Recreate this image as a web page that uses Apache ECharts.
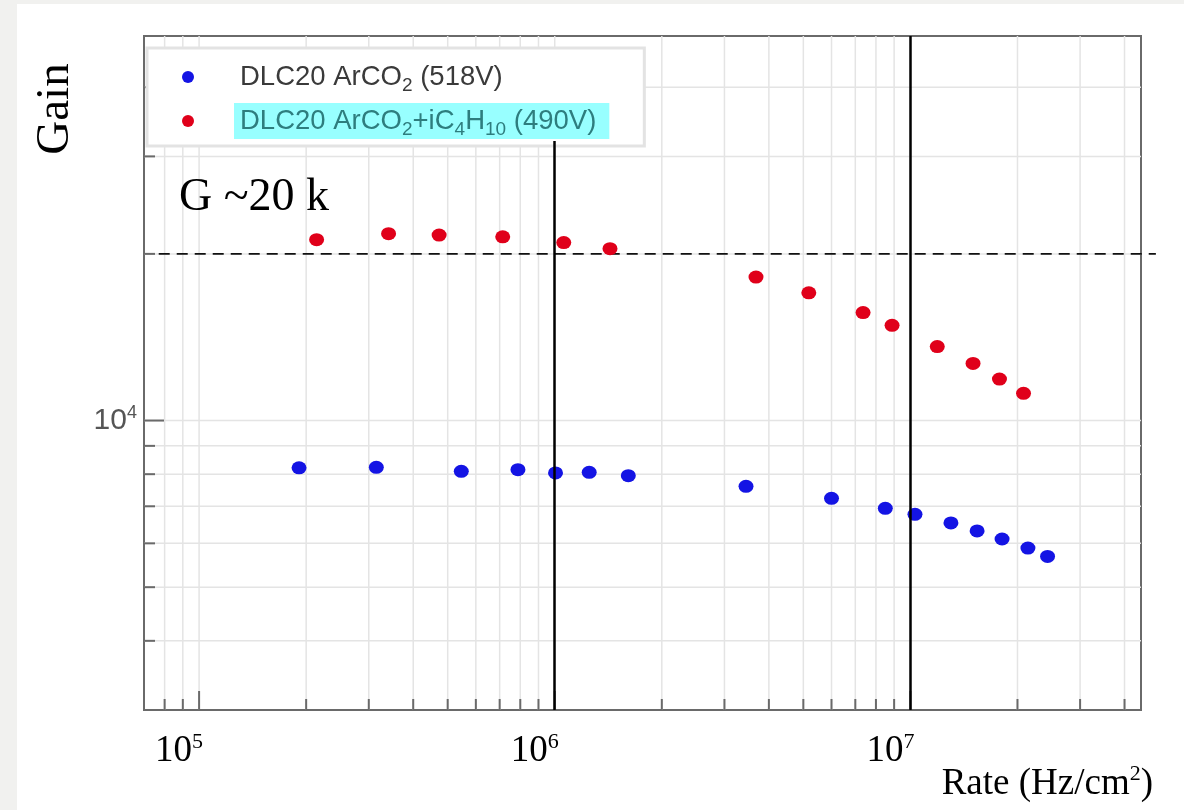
<!DOCTYPE html>
<html>
<head>
<meta charset="utf-8">
<script src="https://cdn.jsdelivr.net/npm/echarts@6/dist/echarts.min.js"></script>
<style>
  html, body { margin: 0; padding: 0; background: #ffffff; }
  #chart { width: 1184px; height: 810px; }
</style>
</head>
<body>
<div id="chart"></div>
<script>
// Gas mixtures shown in the legend
const seriesNames = ['DLC20 ArCO₂ (518V)', 'DLC20 ArCO₂+iC₄H₁₀ (490V)'];

// DLC20 in Ar/CO2 at 518 V: rate (Hz/cm²) and gain
const rateArCO2 = [1.91e5, 3.15e5, 5.46e5, 7.88e5, 1.005e6, 1.25e6, 1.61e6, 3.45e6, 6.0e6, 8.5e6, 1.03e7, 1.30e7, 1.54e7, 1.81e7, 2.14e7, 2.43e7];
const gainArCO2 = [8213, 8230, 8095, 8153, 8042, 8061, 7952, 7605, 7237, 6940, 6770, 6531, 6319, 6109, 5884, 5683];

// DLC20 in Ar/CO2 + iC4H10 at 490 V: rate (Hz/cm²) and gain
const rateIsobutane = [2.14e5, 3.41e5, 4.73e5, 7.14e5, 1.06e6, 1.43e6, 3.68e6, 5.18e6, 7.36e6, 8.88e6, 1.19e7, 1.50e7, 1.78e7, 2.08e7];
const gainIsobutane = [21220, 21750, 21630, 21470, 20960, 20440, 18160, 17010, 15670, 14860, 13600, 12680, 11880, 11200];

// Axis ranges and log-scale grid/tick positions
const rateRange = [7e4, 4.45e7];
const gainRange = [3000, 49500];
const rateTicks = [8e4, 9e4, 1e5, 2e5, 3e5, 4e5, 5e5, 6e5, 7e5, 8e5, 9e5,
                   1e6, 2e6, 3e6, 4e6, 5e6, 6e6, 7e6, 8e6, 9e6, 1e7, 2e7, 3e7, 4e7];
const gainTicks = [4000, 5000, 6000, 7000, 8000, 9000, 1e4, 2e4, 3e4, 4e4];

// Reference gain level (G ~20 k) and highlighted rates
const referenceGain = 20000;
const referenceSpan = [7.7e4, 4.9e7];
const highlightRates = [1e6, 1e7];
const highlightTops = [32000, 49500];

const COLOR_ARCO2 = '#1414e4';
const COLOR_ISO = '#e0001a';

function isDecade(v) {
  const e = Math.log10(v);
  return Math.abs(e - Math.round(e)) < 1e-6;
}

function decadeLabel(v) {
  if (!isDecade(v)) return '';
  return '{b|10}{p|' + Math.round(Math.log10(v)) + '}';
}

// Turn unicode subscript digits into rich-text subscript tokens
function subscriptRich(name) {
  const body = name.replace(/[\u2080-\u2089]+/g, function (m) {
    const digits = Array.from(m).map(function (c) {
      return String.fromCharCode(c.charCodeAt(0) - 0x2080 + 48);
    }).join('');
    return '}{s|' + digits + '}{t|';
  });
  return '{t|' + body + '}';
}

function pairs(xs, ys) {
  return xs.map(function (x, i) { return [x, ys[i]]; });
}

// Light grid lines plus inward ticks along the bottom axis
function renderRateGrid(params, api) {
  const cs = params.coordSys;
  const v = api.value(0);
  const x = api.coord([v, api.value(1)])[0];
  const bottom = cs.y + cs.height;
  const len = isDecade(v) ? 19 : 11;
  return {
    type: 'group',
    children: [
      { type: 'line', shape: { x1: x, y1: cs.y, x2: x, y2: bottom },
        style: { stroke: '#e4e4e4', lineWidth: 1.5 } },
      { type: 'line', shape: { x1: x, y1: bottom, x2: x, y2: bottom - len },
        style: { stroke: '#6a6a6a', lineWidth: 2 } }
    ]
  };
}

// Light grid lines plus inward ticks along the left axis
function renderGainGrid(params, api) {
  const cs = params.coordSys;
  const v = api.value(1);
  const y = api.coord([api.value(0), v])[1];
  const len = isDecade(v) ? 20 : 11;
  return {
    type: 'group',
    children: [
      { type: 'line', shape: { x1: cs.x, y1: y, x2: cs.x + cs.width, y2: y },
        style: { stroke: '#e4e4e4', lineWidth: 1.5 } },
      { type: 'line', shape: { x1: cs.x, y1: y, x2: cs.x + len, y2: y },
        style: { stroke: '#6a6a6a', lineWidth: 2 } }
    ]
  };
}

// Dashed reference level, allowed to run slightly past the frame
function renderReference(params, api) {
  const p0 = api.coord([api.value(0), api.value(2)]);
  const p1 = api.coord([api.value(1), api.value(2)]);
  return {
    type: 'line',
    shape: { x1: p0[0], y1: p0[1], x2: p1[0], y2: p1[1] },
    style: { stroke: '#111', lineWidth: 1.6, lineDash: [11, 7] }
  };
}

const serif = 'Liberation Serif, Times New Roman, serif';
const sans = 'Liberation Sans, Arial, Helvetica, sans-serif';

const chart = echarts.init(document.getElementById('chart'), null, { renderer: 'canvas' });

chart.setOption({
  animation: false,
  backgroundColor: '#ffffff',
  grid: {
    left: 144, right: 43, top: 36, bottom: 100,
    show: true,
    borderColor: '#6a6a6a',
    borderWidth: 2,
    backgroundColor: 'transparent',
    outerBoundsMode: 'none'
  },
  legend: {
    orient: 'vertical',
    left: 147,
    top: 48,
    padding: [15, 35, 7, 35],
    itemWidth: 82,
    itemHeight: 12,
    itemGap: 8,
    icon: 'circle',
    selectedMode: false,
    backgroundColor: '#ffffff',
    borderColor: '#e3e3e3',
    borderWidth: 3,
    formatter: subscriptRich,
    textStyle: {
      fontFamily: sans,
      color: '#3a3a3a',
      padding: [0, 13, 0, 6],
      rich: {
        t: { fontSize: 27.5, lineHeight: 36 },
        s: { fontSize: 19, lineHeight: 27, verticalAlign: 'bottom' }
      }
    },
    data: [
      { name: seriesNames[0] },
      { name: seriesNames[1], textStyle: { backgroundColor: '#98ffff', color: '#2e7d7e' } }
    ]
  },
  xAxis: {
    type: 'log',
    logBase: 10,
    min: rateRange[0],
    max: rateRange[1],
    axisLine: { show: false },
    axisTick: { show: false },
    splitLine: { show: false },
    minorTick: { show: false },
    minorSplitLine: { show: false },
    axisLabel: {
      formatter: decadeLabel,
      margin: 21,
      align: 'right',
      padding: [0, -4, 0, 0],
      showMinLabel: false,
      showMaxLabel: false,
      rich: {
        b: { fontFamily: serif, fontSize: 37, lineHeight: 40, color: '#000' },
        p: { fontFamily: serif, fontSize: 22, lineHeight: 28, verticalAlign: 'top', color: '#000' }
      }
    }
  },
  yAxis: {
    type: 'log',
    logBase: 10,
    min: gainRange[0],
    max: gainRange[1],
    axisLine: { show: false },
    axisTick: { show: false },
    splitLine: { show: false },
    minorTick: { show: false },
    minorSplitLine: { show: false },
    axisLabel: {
      formatter: decadeLabel,
      margin: 7,
      showMinLabel: false,
      showMaxLabel: false,
      rich: {
        b: { fontFamily: sans, fontSize: 30, lineHeight: 34, color: '#555' },
        p: { fontFamily: sans, fontSize: 18, lineHeight: 24, verticalAlign: 'top', color: '#555' }
      }
    }
  },
  series: [
    {
      type: 'custom',
      name: 'rate-grid',
      silent: true,
      clip: false,
      z: 1,
      renderItem: renderRateGrid,
      data: rateTicks.map(function (v) { return [v, 1e4]; })
    },
    {
      type: 'custom',
      name: 'gain-grid',
      silent: true,
      clip: false,
      z: 1,
      renderItem: renderGainGrid,
      data: gainTicks.map(function (v) { return [1e5, v]; })
    },
    {
      type: 'custom',
      name: 'reference-gain',
      silent: true,
      clip: false,
      z: 2,
      renderItem: renderReference,
      encode: { x: [0, 1], y: 2 },
      data: [[referenceSpan[0], referenceSpan[1], referenceGain]]
    },
    {
      type: 'scatter',
      name: seriesNames[0],
      symbol: 'circle',
      symbolSize: [15, 13],
      itemStyle: { color: COLOR_ARCO2, opacity: 1 },
      data: pairs(rateArCO2, gainArCO2),
      z: 3,
      markLine: {
        silent: true,
        symbol: ['none', 'none'],
        label: { show: false },
        emphasis: { disabled: true },
        data: highlightRates.map(function (r, i) {
          return [
            { coord: [r, gainRange[0]], lineStyle: { color: '#000', width: 2.5, type: 'solid' } },
            { coord: [r, highlightTops[i]] }
          ];
        })
      }
    },
    {
      type: 'scatter',
      name: seriesNames[1],
      symbol: 'circle',
      symbolSize: [15, 13],
      itemStyle: { color: COLOR_ISO, opacity: 1 },
      data: pairs(rateIsobutane, gainIsobutane),
      z: 3
    }
  ],
  graphic: [
    { type: 'rect', silent: true, z: -10, shape: { x: 0, y: 0, width: 17, height: 810 }, style: { fill: '#f1f1ef' } },
    { type: 'rect', silent: true, z: -10, shape: { x: 0, y: 0, width: 1184, height: 4 }, style: { fill: '#f1f1ef' } },
    {
      type: 'text', silent: true, z: 20, x: 56, y: 109, rotation: Math.PI / 2,
      style: { text: 'Gain', font: '47px ' + serif, fill: '#000', align: 'center', verticalAlign: 'middle' }
    },
    {
      type: 'text', silent: true, z: 20, x: 179, y: 198,
      style: { text: 'G ~20 k', font: '46px ' + serif, fill: '#000', align: 'left', verticalAlign: 'middle' }
    },
    {
      type: 'text', silent: true, z: 20, x: 1153, y: 784,
      style: {
        text: '{r|Rate (Hz/cm}{p|2}{r|)}',
        align: 'right',
        verticalAlign: 'middle',
        rich: {
          r: { fontFamily: serif, fontSize: 37, lineHeight: 42, fill: '#000' },
          p: { fontFamily: serif, fontSize: 22, lineHeight: 22, verticalAlign: 'top', fill: '#000' }
        }
      }
    }
  ]
});
</script>
</body>
</html>
